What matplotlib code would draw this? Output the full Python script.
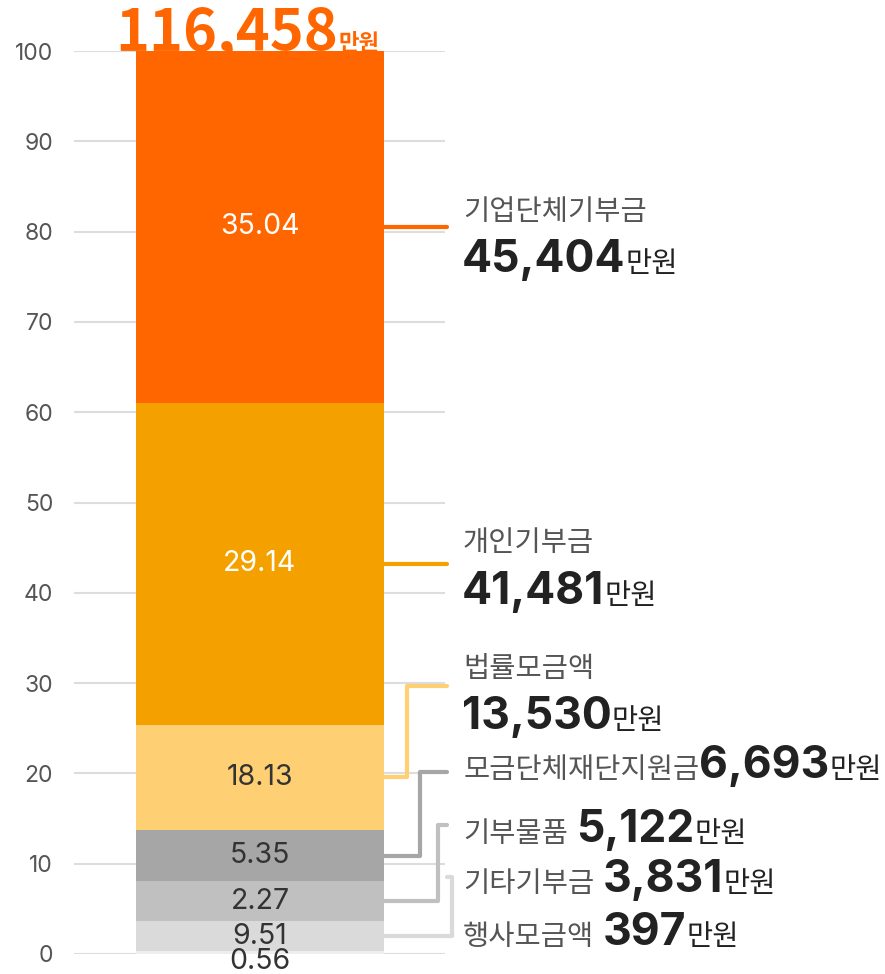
import matplotlib.pyplot as plt

plt.rcParams['font.family'] = ['Noto Sans CJK KR', 'DejaVu Sans']
NUM_FONT = ['Inter', 'Noto Sans CJK KR']

# data (top segment first)
categories = ['기업단체기부금', '개인기부금', '법률모금액', '모금단체재단지원금', '기부물품', '기타기부금', '행사모금액']
amounts = [45404, 41481, 13530, 6693, 5122, 3831, 397]
shares = [38.99, 35.62, 11.62, 5.75, 4.40, 3.29, 0.34]
bar_labels = ['35.04', '29.14', '18.13', '5.35', '2.27', '9.51', '0.56']
total = 116458

colors = ['#FF6600', '#F4A100', '#FFD073', '#A6A6A6', '#C0C0C0', '#DADADA', '#EEEEEE']
label_colors = ['white', 'white', '#333333', '#333333', '#333333', '#333333', '#333333']

# label layout (baselines in data units, elbow x in data units)
name_y = [81.3, 44.6, 30.7, 19.5, 12.4, 6.9, 1.0]
two_line = [True, True, True, False, False, False, False]
link_y = [None, None, 29.7, 20.2, 14.3, 8.5, None]
elbow_x = [None, None, 0.593, 0.645, 0.718, 0.774, None]
gaps = [0, 0, 0, 0, 6, 6, 6]

fig = plt.figure(figsize=(8.85, 9.74), dpi=100)
ax = fig.add_axes([74 / 885, 20 / 974, 371 / 885, 903 / 974])

# stack from the bottom
bottom = 0
mids = [0] * len(shares)
for i in reversed(range(len(shares))):
    ax.bar(0, shares[i], bottom=bottom, width=1.0, color=colors[i], zorder=2)
    mids[i] = bottom + shares[i] / 2
    bottom += shares[i]

for i, lab in enumerate(bar_labels):
    y = mids[i] if shares[i] > 1 else -0.85
    ax.text(0, y, lab, ha='center', va='center', fontsize=20.5, family=NUM_FONT,
            color=label_colors[i], zorder=3)

ax.set_xlim(-0.75, 0.746)
ax.set_ylim(0, 100)
ax.set_yticks(range(0, 101, 10))
ax.set_xticks([])
ax.grid(axis='y', color='#DDDDDD', lw=1.5)
ax.set_axisbelow(True)
for s in ax.spines.values():
    s.set_visible(False)
ax.tick_params(axis='y', length=0, pad=15, labelsize=16.5, labelcolor='#555555')
for tl in ax.get_yticklabels():
    tl.set_family(NUM_FONT)

# connectors and labels
x_end = 0.754
x_text = 0.819
for i, name in enumerate(categories):
    if elbow_x[i] is None and i < 2:
        ax.plot([0.5, x_end], [mids[i], mids[i]], color=colors[i], lw=3,
                solid_capstyle='round', clip_on=False, zorder=1)
    elif elbow_x[i] is not None:
        ax.plot([0.5, elbow_x[i], elbow_x[i], x_end],
                [mids[i], mids[i], link_y[i], link_y[i]], color=colors[i], lw=3,
                solid_capstyle='round', solid_joinstyle='round', clip_on=False, zorder=1)

    t = ax.text(x_text, name_y[i], name, ha='left', va='baseline', fontsize=20.5,
                color='#555555')
    amt = f'{amounts[i]:,}'
    if two_line[i]:
        y_amt = name_y[i] - 5.8
        n = ax.text(x_text - 0.005, y_amt, amt, ha='left', va='baseline',
                    fontsize=32, fontweight='bold', family=NUM_FONT, color='#222222')
    else:
        y_amt = name_y[i]
        n = ax.annotate(amt, xy=(1, y_amt), xycoords=(t, ax.transData),
                        xytext=(gaps[i], 0), textcoords='offset points',
                        ha='left', va='baseline', fontsize=32, fontweight='bold',
                        family=NUM_FONT, color='#222222', annotation_clip=False)
    ax.annotate('만원', xy=(1, y_amt), xycoords=(n, ax.transData), xytext=(0, 0),
                textcoords='offset points', ha='left', va='baseline', fontsize=20.5,
                color='#222222', annotation_clip=False)

# total at the top
tot = ax.text(0.315, 100.1, f'{total:,}', ha='right', va='baseline', fontsize=41.5,
              fontweight='bold', color='#FF6600', zorder=3)
ax.annotate('만원', xy=(1, 100.1), xycoords=(tot, ax.transData), xytext=(0, 0),
            textcoords='offset points', ha='left', va='baseline', fontsize=16,
            fontweight='bold', color='#FF6600', annotation_clip=False, zorder=3)

fig.savefig('out.png', dpi=100)
